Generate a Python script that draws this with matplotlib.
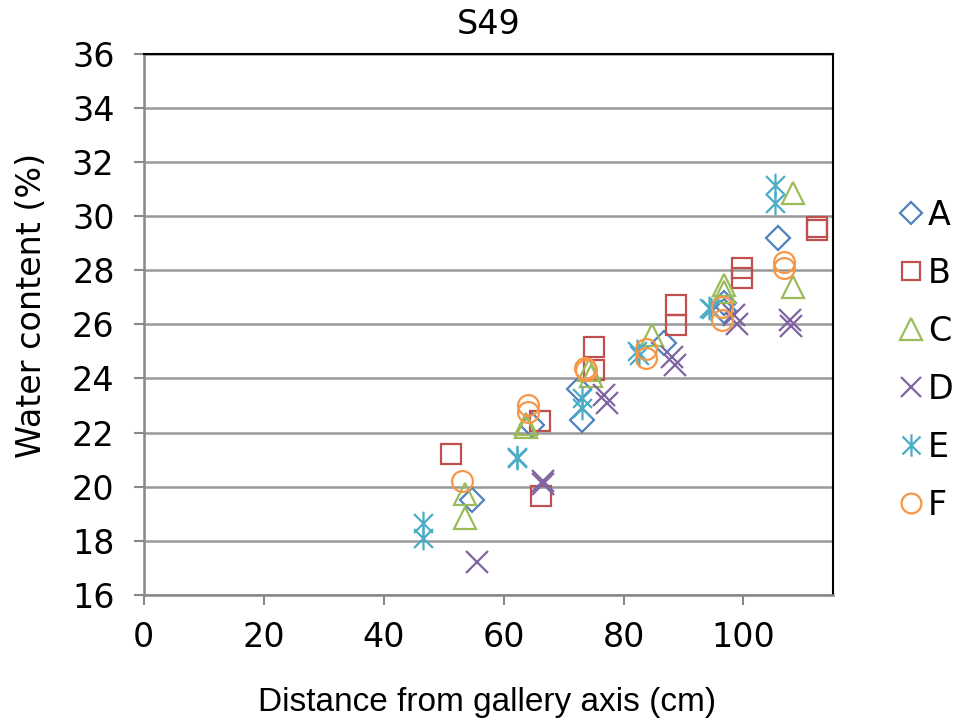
import matplotlib
matplotlib.use("Agg")
import matplotlib.pyplot as plt
from matplotlib.path import Path

plt.rcParams['font.family'] = ['DejaVu Sans']

# Measured water content per profile
a_x = [54.8, 64.7, 72.5, 73.0, 86.8, 96.7, 96.7, 105.8]
a_y = [19.5, 22.26, 23.6, 22.45, 25.3, 26.8, 26.5, 29.2]

b_x = [51.2, 66.2, 66.0, 75.0, 75.0, 88.8, 88.8, 99.7, 99.7, 112.3, 112.3]
b_y = [21.2, 19.67, 22.44, 25.15, 24.3, 26.7, 25.96, 28.1, 27.7, 29.6, 29.5]

c_x = [53.5, 53.5, 63.8, 63.8, 74.3, 74.5, 84.8, 96.7, 96.7, 108.3, 108.3]
c_y = [19.74, 18.85, 22.33, 22.2, 24.3, 24.1, 25.6, 27.45, 27.2, 30.85, 27.37]

d_x = [55.5, 66.5, 66.6, 76.8, 77.3, 88.0, 88.6, 98.5, 99.0, 107.7, 108.0]
d_y = [17.2, 20.1, 20.2, 23.37, 23.1, 24.8, 24.5, 26.33, 26.0, 26.15, 25.95]

e_x = [46.5, 46.5, 62.3, 62.3, 73.0, 73.0, 82.2, 82.5, 94.3, 94.5, 105.2, 105.2]
e_y = [18.67, 18.11, 21.07, 21.1, 23.26, 22.9, 25.0, 24.85, 26.6, 26.55, 31.15, 30.5]

f_x = [53.0, 64.0, 64.0, 73.5, 73.8, 83.8, 83.8, 96.5, 96.5, 106.8, 106.8]
f_y = [20.2, 23.0, 22.74, 24.4, 24.3, 25.1, 24.75, 26.63, 26.15, 28.3, 28.1]

labels = ["A", "B", "C", "D", "E", "F"]
x_ticks = [0, 20, 40, 60, 80, 100]
y_ticks = [16, 18, 20, 22, 24, 26, 28, 30, 32, 34, 36]

# Asterisk: an X crossed by a vertical stroke
star = Path([(-1, -1), (1, 1), (-1, 1), (1, -1), (0, -1.25), (0, 1.25)],
            [Path.MOVETO, Path.LINETO, Path.MOVETO, Path.LINETO,
             Path.MOVETO, Path.LINETO])

styles = [
    dict(marker="D", ms=12, color="#4F81BD"),
    dict(marker="s", ms=14, color="#C0504D"),
    dict(marker="^", ms=16, color="#9BBB59"),
    dict(marker="x", ms=15.5, color="#8064A2"),
    dict(marker=star, ms=17, color="#4BACC6"),
    dict(marker="o", ms=15, color="#F79646"),
]
series = [(a_x, a_y), (b_x, b_y), (c_x, c_y), (d_x, d_y), (e_x, e_y), (f_x, f_y)]

fig = plt.figure(figsize=(9.58, 7.28), dpi=100)
ax = fig.add_axes([0.150, 0.183, 0.720, 0.743])

for (xs, ys), lab, st in zip(series, labels, styles):
    ax.plot(xs, ys, linestyle="none", marker=st["marker"], markersize=st["ms"],
            markerfacecolor="none", markeredgecolor=st["color"],
            markeredgewidth=1.6, label=lab, zorder=3)

ax.set_xlim(0, 115)
ax.set_ylim(16, 36)
ax.set_xticks(x_ticks)
ax.set_yticks(y_ticks)
ax.tick_params(axis="both", direction="out", length=7, width=1.5,
               color="#888888", labelsize=24)
ax.tick_params(axis="y", pad=14)
ax.tick_params(axis="x", pad=12)
ax.yaxis.grid(True, color="#999999", linewidth=1.8)
ax.set_axisbelow(True)

for side in ("left", "bottom"):
    ax.spines[side].set_color("#888888")
    ax.spines[side].set_linewidth(1.8)
for side in ("top", "right"):
    ax.spines[side].set_color("black")
    ax.spines[side].set_linewidth(1.5)

ax.set_title("S49", fontsize=24, pad=14)
ax.set_xlabel("Distance from gallery axis (cm)", fontsize=24,
              family=["Liberation Sans", "DejaVu Sans"])
ax.set_ylabel("Water content (%)", fontsize=24)
ax.xaxis.set_label_coords(0.4985, -0.20)
ax.xaxis.label.set_va("center")
ax.yaxis.set_label_coords(-0.163, 0.534)
ax.yaxis.label.set_va("center")

ax.legend(loc="center left", bbox_to_anchor=(1.025, 0.434), frameon=False,
          fontsize=24, handlelength=1.0, handletextpad=0.02, labelspacing=0.75,
          markerscale=0.95, borderaxespad=0.9)

fig.savefig("out.png", dpi=100)
